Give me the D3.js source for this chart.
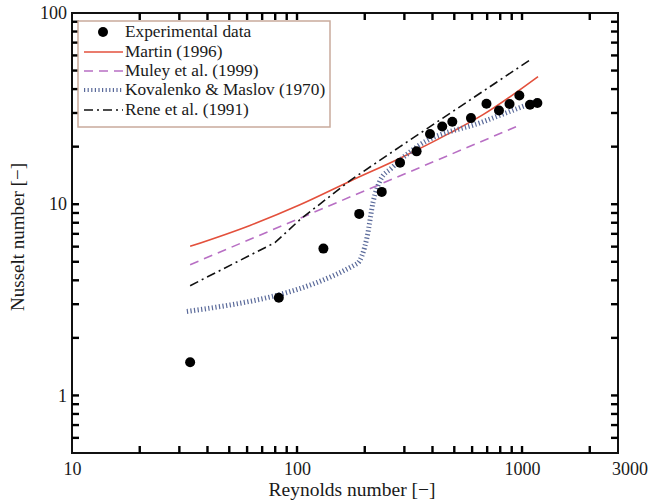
<!DOCTYPE html>
<html>
<head>
<meta charset="utf-8">
<script src="https://cdn.jsdelivr.net/npm/d3@7"></script>
<style>
  html, body { margin: 0; padding: 0; background: #fff; }
  svg text { font-family: "Liberation Serif", "DejaVu Serif", serif; fill: #1a1a1a; }
</style>
</head>
<body>
<svg id="chart" width="651" height="502"></svg>
<script>
// Experimental Nusselt numbers versus Reynolds number
const expRe = [33.5, 83, 131, 189, 238, 287, 340, 390, 442, 490, 593, 695, 790, 880, 973, 1085, 1170];
const expNu = [1.49, 3.24, 5.86, 8.9, 11.6, 16.5, 18.9, 23.3, 25.5, 27.0, 28.2, 33.5, 30.9, 33.4, 37.0, 33.1, 33.8];

// Correlations
const martinRe = [33.5, 61.8, 103, 172, 287, 479, 671, 1178];
const martinNu = [6.02, 7.75, 9.94, 13.2, 17.4, 23.6, 29.4, 46.5];

const muleyRe = [33.5, 940];
const muleyNu = [4.83, 25.4];

const kovRe = [32.4, 185, 205, 218, 234, 264, 342, 671, 1166];
const kovNu = [2.75, 4.89, 6.77, 10.3, 13.3, 15.5, 20.0, 27.0, 34.7];

const reneRe = [33.5, 79.8, 103, 172, 287, 1085];
const reneNu = [3.75, 6.30, 8.30, 13.3, 20.0, 56.8];

// Axis tick labels
const xTickLabels = [10, 100, 1000, 3000];
const yTickLabels = [1, 10, 100];

// Minor tick positions
const xMinorTicks = [20, 30, 40, 50, 60, 70, 80, 90, 100, 200, 300, 400, 500, 600, 700, 800, 900, 1000, 2000];
const yMinorTicks = [0.6, 0.7, 0.8, 0.9, 1, 2, 3, 4, 5, 6, 7, 8, 9, 10, 20, 30, 40, 50, 60, 70, 80, 90];

const legendNames = ["Experimental data", "Martin (1996)", "Muley et al. (1999)", "Kovalenko & Maslov (1970)", "Rene et al. (1991)"];

const svg = d3.select("#chart");

const pLeft = 72, pRight = 618, pTop = 13, pBottom = 453;
const x = d3.scaleLog().domain([10, 2670]).range([pLeft, pRight]);
const y = d3.scaleLog().domain([0.5, 100]).range([pBottom, pTop]);

// tick labels
svg.append("g").attr("transform", `translate(0,${pBottom})`)
  .call(d3.axisBottom(x).tickValues(xTickLabels).tickSize(0).tickPadding(9).tickFormat(d3.format("d")))
  .call(g => g.select(".domain").remove())
  .selectAll("text").attr("font-size", 18);
svg.append("g").attr("transform", `translate(${pLeft},0)`)
  .call(d3.axisLeft(y).tickValues(yTickLabels).tickSize(0).tickPadding(5).tickFormat(d3.format("d")))
  .call(g => g.select(".domain").remove())
  .selectAll("text").attr("font-size", 18);

// frame
svg.append("rect")
  .attr("x", pLeft).attr("y", pTop)
  .attr("width", pRight - pLeft).attr("height", pBottom - pTop)
  .attr("fill", "none").attr("stroke", "#111").attr("stroke-width", 2);

// inward ticks on all four sides
const tickLen = 7, tickW = 2.4;
const tg = svg.append("g").attr("fill", "#000");
xMinorTicks.forEach(v => {
  tg.append("rect").attr("x", x(v) - tickW / 2).attr("y", pBottom - tickLen).attr("width", tickW).attr("height", tickLen);
  tg.append("rect").attr("x", x(v) - tickW / 2).attr("y", pTop).attr("width", tickW).attr("height", tickLen);
});
yMinorTicks.forEach(v => {
  tg.append("rect").attr("x", pLeft).attr("y", y(v) - tickW / 2).attr("width", tickLen).attr("height", tickW);
  tg.append("rect").attr("x", pRight - tickLen).attr("y", y(v) - tickW / 2).attr("width", tickLen).attr("height", tickW);
});

// axis titles
svg.append("text").attr("x", 352).attr("y", 496).attr("text-anchor", "middle")
  .attr("font-size", 19.5).text("Reynolds number [−]");
svg.append("text").attr("transform", "translate(24,237) rotate(-90)").attr("text-anchor", "middle")
  .attr("font-size", 19).text("Nusselt number [−]");

const line = d3.line().x(d => x(d[0])).y(d => y(d[1]));
const smooth = d3.line().x(d => x(d[0])).y(d => y(d[1])).curve(d3.curveMonotoneX);
const zip = (a, b) => a.map((v, i) => [v, b[i]]);

const styles = [
  { re: martinRe, nu: martinNu, color: "#e3503c", width: 1.6, dash: null, gen: smooth },
  { re: muleyRe, nu: muleyNu, color: "#b86fc4", width: 1.6, dash: "9,6", gen: line },
  { re: kovRe, nu: kovNu, color: "#5a6a9a", width: 5, dash: "1.2,2.4", gen: smooth },
  { re: reneRe, nu: reneNu, color: "#111", width: 1.6, dash: "9,4,2,4", gen: line }
];

const plot = svg.append("g");
styles.forEach(s => {
  plot.append("path").datum(zip(s.re, s.nu))
    .attr("d", s.gen).attr("fill", "none")
    .attr("stroke", s.color).attr("stroke-width", s.width)
    .attr("stroke-dasharray", s.dash);
});

plot.selectAll("circle.exp").data(zip(expRe, expNu)).join("circle")
  .attr("class", "exp")
  .attr("cx", d => x(d[0])).attr("cy", d => y(d[1])).attr("r", 5)
  .attr("fill", "#000");

// legend
const lg = svg.append("g");
lg.append("rect").attr("x", 78).attr("y", 21).attr("width", 252).attr("height", 106)
  .attr("fill", "#fff").attr("stroke", "#c9aa9c").attr("stroke-width", 1.5);
const rowY = [32, 52, 71, 90, 110];
legendNames.forEach((name, i) => {
  const yy = rowY[i];
  if (i === 0) {
    lg.append("circle").attr("cx", 103).attr("cy", yy).attr("r", 5).attr("fill", "#000");
  } else {
    const s = styles[i - 1];
    lg.append("line").attr("x1", 84).attr("x2", 123).attr("y1", yy).attr("y2", yy)
      .attr("stroke", s.color).attr("stroke-width", i === 3 ? 4 : s.width)
      .attr("stroke-dasharray", s.dash);
  }
  lg.append("text").attr("x", 125).attr("y", yy + 5).attr("font-size", 17.3).text(name);
});
</script>
</body>
</html>
